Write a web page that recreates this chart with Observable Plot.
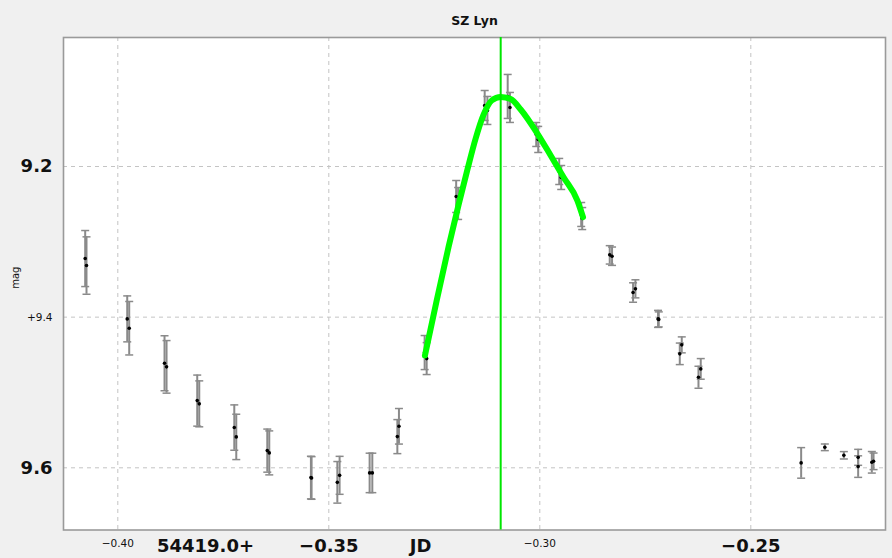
<!DOCTYPE html>
<html>
<head>
<meta charset="utf-8">
<script src="https://cdn.jsdelivr.net/npm/d3@7"></script>
<script src="https://cdn.jsdelivr.net/npm/@observablehq/plot@0.6"></script>
<style>
  html, body { margin: 0; padding: 0; background: #f0f0f0; }
  #chart { width: 892px; height: 558px; }
</style>
</head>
<body>
<div id="chart"></div>
<script>
// ---- data ----
const title = "SZ Lyn";
const jd = [-0.40773,-0.40742,-0.39777,-0.39730,-0.38893,-0.38845,-0.38118,-0.38070,-0.37240,-0.37193,
  -0.36458,-0.36411,-0.35424,-0.35408,-0.34798,-0.34744,-0.34033,-0.33969,-0.33376,-0.33338,
  -0.32729,-0.32681,-0.31982,-0.31935,-0.31306,-0.31242,-0.30761,-0.30707,-0.30085,-0.30038,
  -0.29540,-0.29493,-0.29019,-0.28995,-0.28343,-0.28288,-0.27790,-0.27734,-0.27198,-0.27181,
  -0.26683,-0.26636,-0.26240,-0.26186,-0.23807,-0.23246,-0.22795,-0.22456,-0.22456,-0.22132,-0.22091];
const mag = [9.3222,9.3315,9.4023,9.4147,9.4612,9.4660,9.5108,9.5151,9.5466,9.5590,
  9.5772,9.5802,9.6130,9.6135,9.6193,9.6100,9.6068,9.6068,9.5586,9.5449,
  9.4470,9.4550,9.2398,9.2491,9.1190,9.1256,9.1070,9.1216,9.1575,9.1641,
  9.2066,9.2146,9.2637,9.2691,9.3173,9.3191,9.3673,9.3624,9.4023,9.4030,
  9.4487,9.4368,9.4798,9.4687,9.5935,9.5728,9.5834,9.5861,9.5984,9.5927,9.5914];
const err = [0.0372,0.0381,0.0305,0.0355,0.0365,0.0349,0.0339,0.0305,0.0301,0.0301,
  0.0286,0.0292,0.0283,0.0283,0.0276,0.0252,0.0262,0.0262,0.0226,0.0236,
  0.0226,0.0212,0.0212,0.0212,0.0199,0.0186,0.0292,0.0199,0.0159,0.0173,
  0.0173,0.0159,0.0159,0.0146,0.0122,0.0122,0.0129,0.0120,0.0113,0.0100,
  0.0143,0.0106,0.0146,0.0137,0.0203,0.0044,0.0049,0.0106,0.0143,0.0143,0.0110];
const fitJd = [-0.32722,-0.32444,-0.32160,-0.31923,-0.31709,-0.31520,-0.31330,-0.31140,-0.30927,
  -0.30690,-0.30453,-0.30057,-0.29742,-0.29433,-0.29109,-0.28976];
const fitMag = [9.4510,9.3780,9.3062,9.2505,9.2027,9.1628,9.1309,9.1124,9.1077,
  9.1104,9.1243,9.1562,9.1854,9.2146,9.2452,9.2673];
const maxJd = -0.30927;
const xSmallTicks = [-0.40, -0.30];
const xBigTicks = [-0.35, -0.25];
const ySmallTicks = [9.4];
const yBigTicks = [9.2, 9.6];
const xAxisTexts = ["54419.0+", "JD"];
const yAxisText = "mag";

// ---- tables ----
const obs = jd.map((x, i) => ({jd: x, mag: mag[i], lo: mag[i] - err[i], hi: mag[i] + err[i]}));
const fit = fitJd.map((x, i) => ({jd: x, mag: fitMag[i]}));

const capSymbol = {
  draw(ctx, size) {
    const r = Math.sqrt(size / Math.PI);
    ctx.moveTo(-r, 0);
    ctx.lineTo(r, 0);
  }
};

const bigFont = {fontSize: 18, fontWeight: "bold", fill: "#111"};
const smallFont = {fontSize: 10.5, fill: "#111"};

const chart = Plot.plot({
  width: 892,
  height: 558,
  marginLeft: 63,
  marginRight: 7,
  marginTop: 37,
  marginBottom: 28.5,
  style: {fontFamily: "DejaVu Sans, sans-serif", background: "#f0f0f0", overflow: "visible"},
  x: {domain: [-0.41287, -0.21808]},
  y: {domain: [9.02874, 9.68258], reverse: true},
  marks: [
    Plot.frame({fill: "white", stroke: "none"}),
    Plot.gridX(xSmallTicks.concat(xBigTicks), {stroke: "#c4c4c4", strokeOpacity: 1, strokeDasharray: "4,4"}),
    Plot.gridY(ySmallTicks.concat(yBigTicks), {stroke: "#c4c4c4", strokeOpacity: 1, strokeDasharray: "4,4"}),
    Plot.frame({stroke: "#9a9a9a", strokeWidth: 1.6}),
    Plot.ruleX(obs, {x: "jd", y1: "lo", y2: "hi", stroke: "#8a8a8a", strokeWidth: 2}),
    Plot.dot(obs, {x: "jd", y: "lo", symbol: capSymbol, r: 4, fill: "none", stroke: "#8a8a8a", strokeWidth: 1.5}),
    Plot.dot(obs, {x: "jd", y: "hi", symbol: capSymbol, r: 4, fill: "none", stroke: "#8a8a8a", strokeWidth: 1.5}),
    Plot.dot(obs, {x: "jd", y: "mag", r: 1.8, fill: "black", stroke: "none"}),
    Plot.line(fit, {x: "jd", y: "mag", curve: "monotone-x", stroke: "#00ff00", strokeWidth: 6, strokeLinecap: "round"}),
    Plot.ruleX([maxJd], {stroke: "#00e600", strokeWidth: 2}),
    Plot.axisX({ticks: xSmallTicks, tickSize: 0, tickPadding: 10, tickFormat: d3.format(".2f"), label: null, ...smallFont}),
    Plot.axisX({ticks: xBigTicks, tickSize: 0, tickPadding: 9.5, tickFormat: d3.format(".2f"), label: null, ...bigFont}),
    Plot.axisY({ticks: ySmallTicks, tickSize: 0, tickPadding: 11, tickFormat: d => "+" + d3.format(".1f")(d), label: null, ...smallFont}),
    Plot.axisY({ticks: yBigTicks, tickSize: 0, tickPadding: 11, tickFormat: d3.format(".1f"), label: null, ...bigFont}),
    Plot.text([xAxisTexts[0]], {frameAnchor: "bottom", dx: -269, dy: 9.5, lineAnchor: "top", ...bigFont}),
    Plot.text([xAxisTexts[1]], {frameAnchor: "bottom", dx: -54, dy: 9.5, lineAnchor: "top", ...bigFont}),
    Plot.text([yAxisText], {frameAnchor: "left", dx: -48, dy: 5, rotate: -90, fontSize: 10, fill: "#111"}),
    Plot.text([title], {frameAnchor: "top", dy: -17, lineAnchor: "middle", fontSize: 12.5, fontWeight: "bold", fill: "#111"})
  ]
});
document.getElementById("chart").appendChild(chart);
</script>
</body>
</html>
